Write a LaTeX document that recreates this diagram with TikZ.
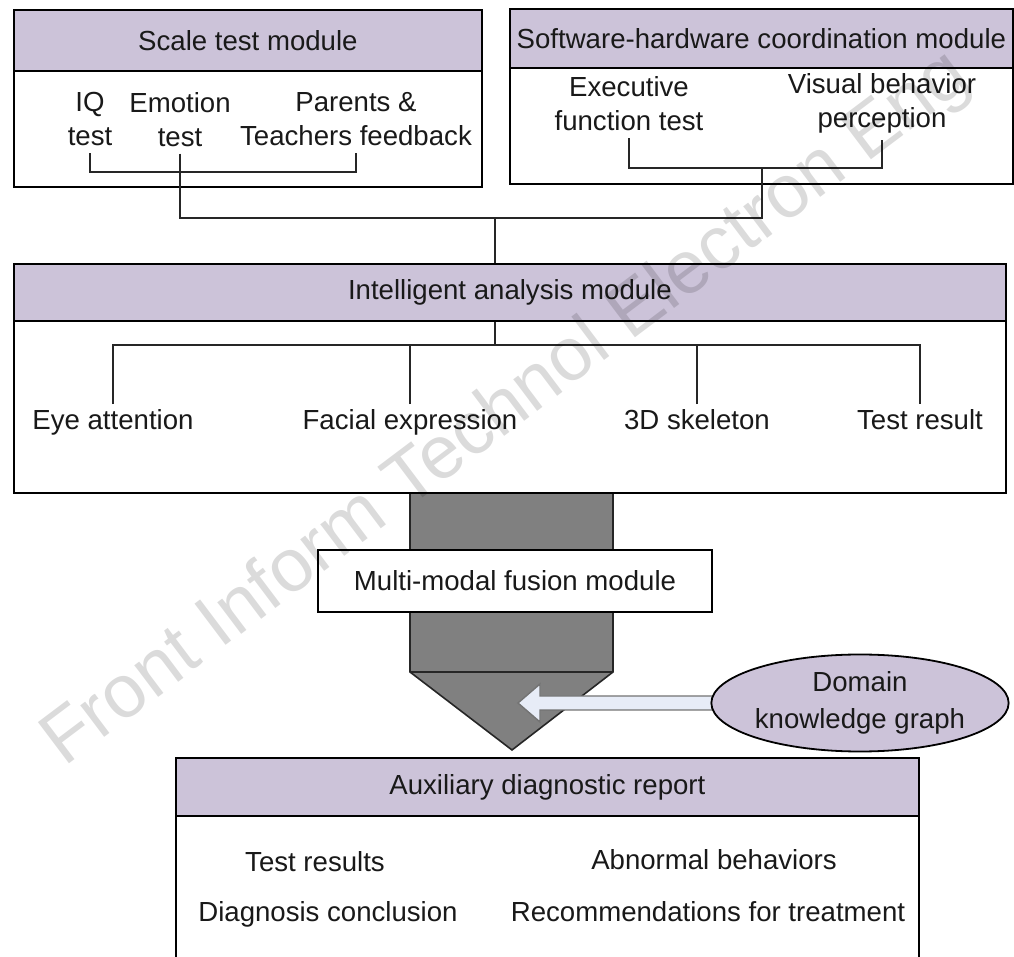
\documentclass[tikz,border=0pt]{standalone}
\usepackage{fontspec}
\setmainfont{Liberation Sans}
\usetikzlibrary{shapes.geometric,calc}
\pgfdeclarelayer{bg}
\pgfsetlayers{bg,main}
\definecolor{hdr}{RGB}{204,195,217}
\definecolor{colgray}{RGB}{128,128,128}
\definecolor{arrfill}{RGB}{231,236,247}
\begin{document}
\begin{tikzpicture}[x=0.5pt,y=-0.5pt,
  every node/.style={font=\fontsize{13.8}{17}\selectfont, text=black!90},
  hdrbox/.style={draw, line width=0.9pt, fill=hdr, anchor=north west, inner sep=0pt},
  bodybox/.style={draw, line width=0.9pt, fill=white, anchor=north west, inner sep=0pt},
  itm/.style={inner sep=0pt, outer sep=3.5pt, align=center},
  leaf/.style={inner sep=0pt, outer sep=3pt, text height=9.9pt, text depth=0pt},
  wire/.style={line width=0.9pt, draw=black!85},
]
\useasboundingbox (0,0) rectangle (1014,957);
\clip (0,0) rectangle (1014,957);

% Scale test module
\node[bodybox, minimum width=234pt, minimum height=58pt] (sb) at (13,70) {};
\node[hdrbox, minimum width=234pt, minimum height=30.5pt] (sh) at (13,9) {Scale test module};
% Software-hardware coordination module
\node[bodybox, minimum width=251.5pt, minimum height=58pt] (wb) at (509,67) {};
\node[hdrbox, minimum width=251.5pt, minimum height=29.5pt] (wh) at (509,8) {Software-hardware coordination module};
% Intelligent analysis module
\node[bodybox, minimum width=496pt, minimum height=86pt] (ib) at (13,320) {};
\node[hdrbox, minimum width=496pt, minimum height=28.5pt] (ih) at (13,263) {Intelligent analysis module};

% items
\node[itm] (iq) at (90,119.5) {IQ\\test};
\node[itm] (emo) at (180,119.5) {Emotion\\test};
\node[itm] (par) at (356,119.5) {Parents \&\\Teachers feedback};
\node[itm] (exe) at (629,104) {Executive\\function test};
\node[itm] (vis) at (882,103.5) {Visual behavior\\perception};

\coordinate (sj) at (225,172);
\coordinate (hj) at (762,168);
\coordinate (tj) at (495,218);
\coordinate (ij) at (495,345);

\draw[wire] (iq.south) |- (sj) -| (par.south);
\draw[wire] (exe.south) |- (hj) -| (vis.south);
\draw[wire] (emo.south) |- (tj) -| (hj);
\draw[wire] (tj) -- (tj |- ih.north);
\draw[wire] (ij |- ih.south) -- (ij);

\node[leaf] (eye) at (113,420) {Eye attention};
\node[leaf] (fac) at (410,420) {Facial expression};
\node[leaf] (skel) at (697,420) {3D skeleton};
\node[leaf] (res) at (920,420) {Test result};
\draw[wire] (eye.north) |- (ij) -| (res.north);
\draw[wire] (fac.north) -- (fac.north |- ij);
\draw[wire] (skel.north) -- (skel.north |- ij);

% fusion column
\begin{pgfonlayer}{bg}
\draw[fill=colgray, line width=0.8pt, draw=black!85] (410,492) -- (613,492) -- (613,672) -- (512,750) -- (410,672) -- cycle;
\draw[line width=0.8pt, draw=black!85] (410,672) -- (613,672);
\end{pgfonlayer}
\node[draw, fill=white, line width=0.9pt, minimum width=197pt, minimum height=31pt, inner sep=0pt] (mm) at (515,581) {Multi-modal fusion module};

% knowledge graph
\node[ellipse, draw, fill=hdr, line width=0.9pt, minimum width=142.5pt, minimum height=48.5pt, inner sep=0pt, align=center] (kg) at (860,703) {Domain\\[1.5pt]knowledge graph};
\coordinate (tip) at (518,703);
\begin{pgfonlayer}{bg}
\draw[fill=arrfill, draw=black!55, line width=0.7pt] ($(kg.west)+(8,-7)$) -- ($(tip)+(22,-7)$) -- ($(tip)+(22,-19)$) -- (tip) -- ($(tip)+(22,19)$) -- ($(tip)+(22,7)$) -- ($(kg.west)+(8,7)$);
\end{pgfonlayer}

% Auxiliary diagnostic report
\node[bodybox, minimum width=371.5pt, minimum height=80pt] (ab) at (175,815) {};
\node[hdrbox, minimum width=371.5pt, minimum height=29pt] (ah) at (175,757) {Auxiliary diagnostic report};
\node[leaf] (r1) at (315,862) {Test results};
\node[leaf] (r2) at (714,860) {Abnormal behaviors};
\node[leaf] (r3) at (328,912) {Diagnosis conclusion};
\node[leaf] (r4) at (708,912) {Recommendations for treatment};

% watermark
\node[rotate=37, anchor=base west, inner sep=0pt, text=black, opacity=0.14, font=\fontsize{37.5}{40}\selectfont] (wm) at (64,768) {Front Inform Technol Electron Eng};
\end{tikzpicture}
\end{document}
